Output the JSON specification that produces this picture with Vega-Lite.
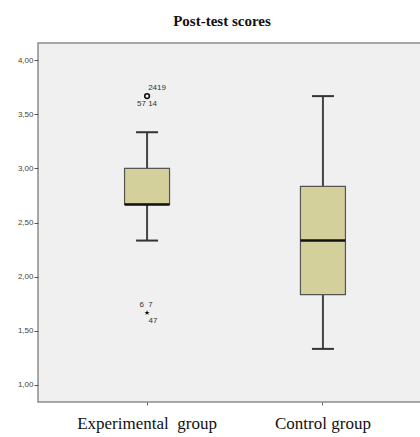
{
  "$schema": "https://vega.github.io/schema/vega-lite/v6.json",
  "width": 394,
  "height": 359,
  "autosize": {"type": "none"},
  "padding": {"left": 38, "top": 43, "right": 0, "bottom": 35},
  "background": "white",
  "title": {"text": "Post-test scores", "font": "Liberation Serif", "fontSize": 15, "fontWeight": "bold", "color": "#111", "anchor": "middle", "dx": -13, "offset": 14},
  "config": {
    "view": {"fill": "#f0f0f0", "stroke": "#8c8c8c", "strokeWidth": 1.5},
    "axis": {"grid": false, "domain": false, "title": null}
  },
  "datasets": {
    "boxes": [
      {"group": "Experimental\u00a0 group", "lower": 2.3333, "q1": 2.6667, "median": 2.6667, "q3": 3.0, "upper": 3.3333},
      {"group": "Control group", "lower": 1.3333, "q1": 1.8333, "median": 2.3333, "q3": 2.8333, "upper": 3.6667}
    ],
    "outliers": [
      {"group": "Experimental\u00a0 group", "value": 3.6667, "kind": "outlier"}
    ],
    "extremes": [
      {"group": "Experimental\u00a0 group", "value": 1.6667, "kind": "extreme"}
    ]
  },
  "data": {"name": "boxes"},
  "encoding": {
    "x": {
      "field": "group", "type": "nominal", "sort": ["Experimental\u00a0 group", "Control group"],
      "scale": {"type": "band", "paddingInner": 0, "paddingOuter": 0.12},
      "axis": {"labelAngle": 0, "labelFont": "Liberation Serif", "labelFontSize": 17, "labelColor": "#111", "tickSize": 3, "tickColor": "#666", "labelPadding": 10}
    }
  },
  "layer": [
    {
      "mark": {"type": "rule", "stroke": "#444", "strokeWidth": 2},
      "encoding": {
        "y": {"field": "lower", "type": "quantitative", "scale": {"domain": [0.843, 4.157], "nice": false, "zero": false},
          "axis": {"values": [1, 1.5, 2, 2.5, 3, 3.5, 4], "labelExpr": "replace(format(datum.value, '.2f'), '.', ',')", "labelFont": "Liberation Sans", "labelFontSize": 8, "labelColor": "#444", "tickSize": 4, "tickColor": "#555", "labelPadding": 1}},
        "y2": {"field": "upper"}
      }
    },
    {
      "mark": {"type": "bar", "size": 45, "fill": "#d4d09c", "stroke": "#555", "strokeWidth": 1.2},
      "encoding": {
        "y": {"field": "q1", "type": "quantitative"},
        "y2": {"field": "q3"}
      }
    },
    {
      "mark": {"type": "tick", "orient": "horizontal", "size": 45, "thickness": 2.5, "color": "#111", "opacity": 1},
      "encoding": {"y": {"field": "median", "type": "quantitative"}}
    },
    {
      "mark": {"type": "tick", "orient": "horizontal", "size": 22, "thickness": 2, "color": "#333", "opacity": 1},
      "encoding": {"y": {"field": "lower", "type": "quantitative"}}
    },
    {
      "mark": {"type": "tick", "orient": "horizontal", "size": 22, "thickness": 2, "color": "#333", "opacity": 1},
      "encoding": {"y": {"field": "upper", "type": "quantitative"}}
    },
    {
      "data": {"name": "outliers"},
      "mark": {"type": "point", "shape": "circle", "size": 22, "filled": false, "stroke": "#111", "strokeWidth": 1.6, "opacity": 1},
      "encoding": {"y": {"field": "value", "type": "quantitative"}}
    },
    {
      "data": {"name": "extremes"},
      "mark": {"type": "point", "shape": "M0,-1L0.2245,-0.309L0.9511,-0.309L0.3633,0.118L0.5878,0.809L0,0.382L-0.5878,0.809L-0.3633,0.118L-0.9511,-0.309L-0.2245,-0.309Z", "size": 30, "filled": true, "fill": "#111", "opacity": 1},
      "encoding": {"y": {"field": "value", "type": "quantitative"}}
    },
    {
      "data": {"values": [{"group": "Experimental\u00a0 group", "value": 3.6667, "label": "2419"}]},
      "mark": {"type": "text", "font": "Liberation Sans", "fontSize": 8, "color": "#333", "dx": 10, "dy": -8},
      "encoding": {"y": {"field": "value", "type": "quantitative"}, "text": {"field": "label"}}
    },
    {
      "data": {"values": [{"group": "Experimental\u00a0 group", "value": 3.6667, "label": "57 14"}]},
      "mark": {"type": "text", "font": "Liberation Sans", "fontSize": 8, "color": "#333", "dx": 0, "dy": 8},
      "encoding": {"y": {"field": "value", "type": "quantitative"}, "text": {"field": "label"}}
    },
    {
      "data": {"values": [{"group": "Experimental\u00a0 group", "value": 1.6667, "label": "6\u00a0 7"}]},
      "mark": {"type": "text", "font": "Liberation Sans", "fontSize": 8, "color": "#333", "dx": -1, "dy": -8},
      "encoding": {"y": {"field": "value", "type": "quantitative"}, "text": {"field": "label"}}
    },
    {
      "data": {"values": [{"group": "Experimental\u00a0 group", "value": 1.6667, "label": "47"}]},
      "mark": {"type": "text", "font": "Liberation Sans", "fontSize": 8, "color": "#333", "dx": 6, "dy": 8},
      "encoding": {"y": {"field": "value", "type": "quantitative"}, "text": {"field": "label"}}
    }
  ]
}
